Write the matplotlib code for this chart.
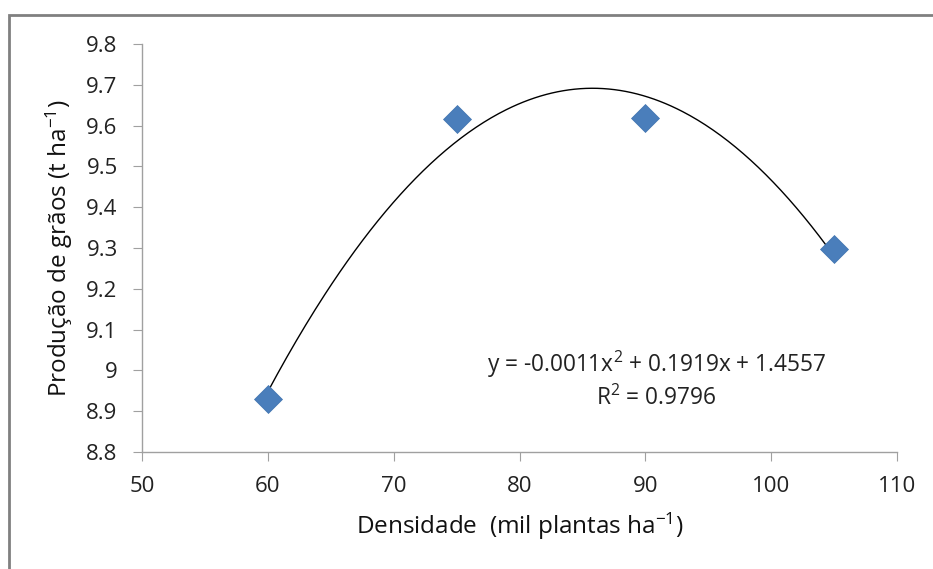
import numpy as np
import matplotlib
matplotlib.use("Agg")
import matplotlib.pyplot as plt
from matplotlib.patches import Rectangle

plt.rcParams['font.family'] = ['Open Sans', 'DejaVu Sans']
plt.rcParams['mathtext.fontset'] = 'custom'
plt.rcParams['mathtext.rm'] = 'Open Sans'
plt.rcParams['mathtext.it'] = 'Open Sans'
plt.rcParams['mathtext.default'] = 'regular'

densidade = [60, 75, 90, 105]
producao = [8.93, 9.615, 9.618, 9.298]
xticks = [50, 60, 70, 80, 90, 100, 110]
yticks = [8.8, 8.9, 9.0, 9.1, 9.2, 9.3, 9.4, 9.5, 9.6, 9.7, 9.8]
ytick_labels = ['8.8', '8.9', '9', '9.1', '9.2', '9.3', '9.4', '9.5', '9.6', '9.7', '9.8']
eq_line1 = "y = -0.0011x$^{2}$ + 0.1919x + 1.4557"
eq_line2 = "R$^{2}$ = 0.9796"

fig = plt.figure(figsize=(9.33, 5.69), dpi=100)
# outer frame
fig.patches.append(Rectangle((9/933, -0.1), 1.2, (1 - 15/569) + 0.1, transform=fig.transFigure,
                             fill=False, edgecolor='#808080', linewidth=2.0))
ax = fig.add_axes([142/933, 117/569, (897-142)/933, (452-44)/569])

coef = np.polyfit(densidade, producao, 2)
xs = np.linspace(densidade[0], densidade[-1], 300)
ax.plot(xs, np.polyval(coef, xs), color='black', linewidth=1.0, zorder=2)
ax.plot(densidade, producao, linestyle='none', marker='D', markersize=14,
        color='#4A7EBB', markeredgecolor='#3F72AF', markeredgewidth=0.5, zorder=3)

ax.set_xlim(50, 110)
ax.set_ylim(8.8, 9.8)
ax.set_xticks(xticks)
ax.set_yticks(yticks)
ax.set_yticklabels(ytick_labels)
for s in ['top', 'right']:
    ax.spines[s].set_visible(False)
for s in ['left', 'bottom']:
    ax.spines[s].set_color('#A0A0A0')
    ax.spines[s].set_linewidth(1.0)
ax.tick_params(axis='both', direction='out', length=6.5, color='#A0A0A0', labelsize=16,
               labelcolor='#222222')
ax.tick_params(axis='y', pad=11)
ax.tick_params(axis='x', pad=11)

ax.set_xlabel('Densidade  (mil plantas ha$^{-1}$)', fontsize=17.5, color='#111111', labelpad=10)
ax.set_ylabel('Produção de grãos (t ha$^{-1}$)', fontsize=17.5, color='#111111', labelpad=8)

ax.text(656/933, 1 - 364/569, eq_line1, transform=fig.transFigure, ha='center', va='center',
        fontsize=16.3, color='#222222')
ax.text(656/933, 1 - 398/569, eq_line2, transform=fig.transFigure, ha='center', va='center',
        fontsize=16.3, color='#222222')

fig.savefig('out.png', dpi=100)
